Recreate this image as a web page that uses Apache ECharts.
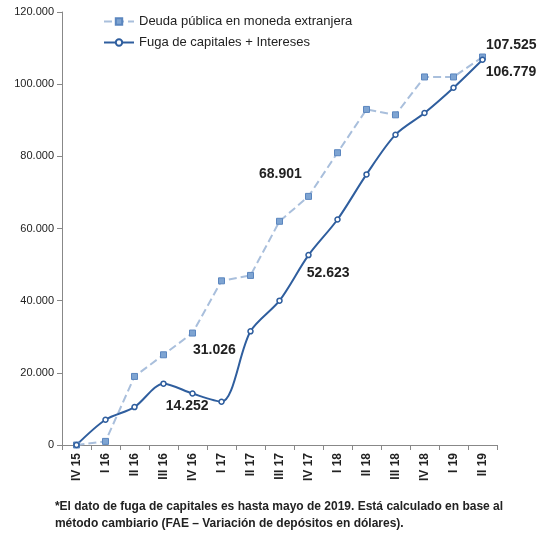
<!DOCTYPE html><html><head><meta charset="utf-8"><script src="https://cdn.jsdelivr.net/npm/echarts@6/dist/echarts.min.js"></script></head><body style="margin:0;background:#fff"><div id="c" style="width:558px;height:536px"></div><script>
const categories=['IV 15','I 16','II 16','III 16','IV 16','I 17','II 17','III 17','IV 17','I 18','II 18','III 18','IV 18','I 19','II 19'];
const deuda=[0,1000,19000,25000,31026,45500,47000,62000,68901,81000,93000,91500,102000,102000,107525];
const fuga=[0,7000,10500,17000,14252,12000,31500,40000,52623,62500,75000,86000,92000,99000,106779];
const deudaLabels={4:'31.026',8:'68.901',14:'107.525'};
const fugaLabels={4:'14.252',8:'52.623',14:'106.779'};
const fmt=v=>v===0?'0':String(v).replace(/\B(?=(\d{3})+(?!\d))/g,'.');
const lbl=(d,m,pos,off)=>d.map((v,i)=>m[i]?{value:v,label:{show:true,formatter:m[i],position:pos,offset:off[i]||[0,0],fontSize:14,fontWeight:'bold',color:'#222'}}:v);
const ch=echarts.init(document.getElementById('c'));
ch.setOption({
 animation:false,
 grid:{left:62,right:61,top:12,bottom:91},
 legend:{orient:'vertical',left:98,top:10,itemGap:8,itemWidth:30,itemHeight:8,textStyle:{fontSize:13,color:'#222',fontFamily:'Liberation Sans'},data:['Deuda pública en moneda extranjera','Fuga de capitales + Intereses']},
 xAxis:{type:'category',data:categories,boundaryGap:true,axisLine:{lineStyle:{color:'#888'}},axisTick:{show:true,lineStyle:{color:'#888'}},axisLabel:{rotate:90,color:'#222',fontSize:12,fontWeight:'bold',interval:0}},
 yAxis:{type:'value',min:0,max:120000,interval:20000,splitLine:{show:false},axisLine:{show:true,lineStyle:{color:'#888'}},axisTick:{show:true,lineStyle:{color:'#888'}},axisLabel:{formatter:fmt,color:'#222',fontSize:11}},
 series:[
  {name:'Deuda pública en moneda extranjera',type:'line',data:lbl(deuda,deudaLabels,'right',{4:[-8,17],8:[-58,-22],14:[-5,-12]}),symbol:'rect',symbolSize:6,lineStyle:{type:'dashed',color:'#a9bfdc',width:2},itemStyle:{color:'#7ea4d2',borderColor:'#5b86bf',borderWidth:1}},
  {name:'Fuga de capitales + Intereses',type:'line',smooth:0.3,data:lbl(fuga,fugaLabels,'right',{4:[-35,13],8:[-10,18],14:[-5,12]}),symbol:'circle',symbolSize:5,lineStyle:{color:'#2f5e9e',width:2},itemStyle:{color:'#fff',borderColor:'#2f5e9e',borderWidth:1.5}}
 ],
 graphic:[{type:'text',left:'center',top:498,style:{text:'*El dato de fuga de capitales es hasta mayo de 2019. Está calculado en base al\nmétodo cambiario (FAE – Variación de depósitos en dólares).',align:'center',font:'bold 12px Liberation Sans',fill:'#222',lineHeight:17}}]
});
</script></body></html>
